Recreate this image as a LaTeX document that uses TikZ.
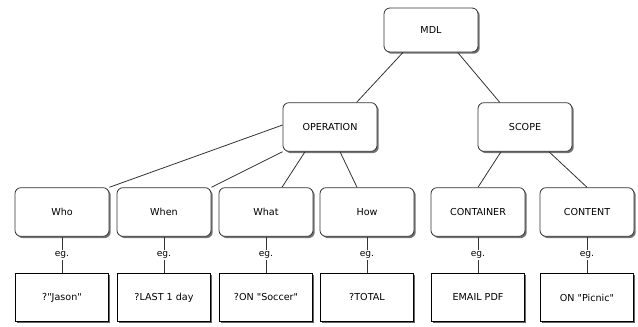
\documentclass[tikz,border=0pt]{standalone}
\usepackage{fontspec}
\setmainfont{DejaVu Sans}[Ligatures=TeXOff]
\usetikzlibrary{positioning,shadows}

\begin{document}
\begin{tikzpicture}[
  x=0.75pt, y=-0.75pt,
  node distance=27pt,
  term/.style={draw=black!80, line width=0.6pt, fill=white, rounded corners=4.5pt,
               minimum width=70.5pt, minimum height=36.5pt,
               font=\fontsize{7.2}{9}\selectfont,
               drop shadow={shadow xshift=1.3pt, shadow yshift=-1.3pt,
                            fill=black!55, opacity=1}},
  sample/.style={draw=black, line width=1.1pt, fill=white,
               minimum width=70pt, minimum height=36pt,
               font=\fontsize{7.2}{9}\selectfont,
               drop shadow={shadow xshift=1.3pt, shadow yshift=-1.3pt,
                            fill=black!60, opacity=1}},
  eg/.style={fill=white, inner sep=1pt, font=\fontsize{6.8}{8}\selectfont},
  edge/.style={draw=black!80, line width=0.6pt}
]
\useasboundingbox (0,0) rectangle (638,326);

% tree
\node[term, minimum height=33pt] (mdl) at (431,30) {MDL};
\node[term] (op) at (330,127) {OPERATION};
\node[term] (scope) at (525,127) {SCOPE};
\node[term] (who) at (62,212) {Who};
\node[term] (when) at (164,212) {When};
\node[term] (what) at (266,212) {What};
\node[term] (how) at (367,212) {How};
\node[term] (cont) at (478,212) {CONTAINER};
\node[term] (content) at (587,212) {CONTENT};

% examples
\node[sample, below=of who] (whoex) {?"Jason"};
\node[sample, below=of when] (whenex) {?LAST 1 day};
\node[sample, below=of what] (whatex) {?ON "Soccer"};
\node[sample, below=of how] (howex) {?TOTAL};
\node[sample, below=of cont] (contex) {EMAIL PDF};
\node[sample, below=of content] (contentex) {ON "Picnic"};

\draw[edge] ([xshift=-21pt]mdl.south) -- ([xshift=20pt]op.north);
\draw[edge] ([xshift=20pt]mdl.south) -- ([xshift=-19pt]scope.north);
\draw[edge] ([yshift=1.5pt]op.west) -- (who.north east);
\draw[edge] (op.south west) -- (when.north east);
\draw[edge] ([xshift=-18.75pt]op.south) -- ([xshift=12pt]what.north);
\draw[edge] ([xshift=7.5pt]op.south) -- ([xshift=-7.5pt]how.north);
\draw[edge] ([xshift=-18pt]scope.south) -- (cont.north);
\draw[edge] ([xshift=18pt]scope.south) -- (content.north);

\draw[edge] (who) -- node[eg] {eg.} (whoex);
\draw[edge] (when) -- node[eg] {eg.} (whenex);
\draw[edge] (what) -- node[eg] {eg.} (whatex);
\draw[edge] (how) -- node[eg] {eg.} (howex);
\draw[edge] (cont) -- node[eg] {eg.} (contex);
\draw[edge] (content) -- node[eg] {eg.} (contentex);
\end{tikzpicture}
\end{document}
